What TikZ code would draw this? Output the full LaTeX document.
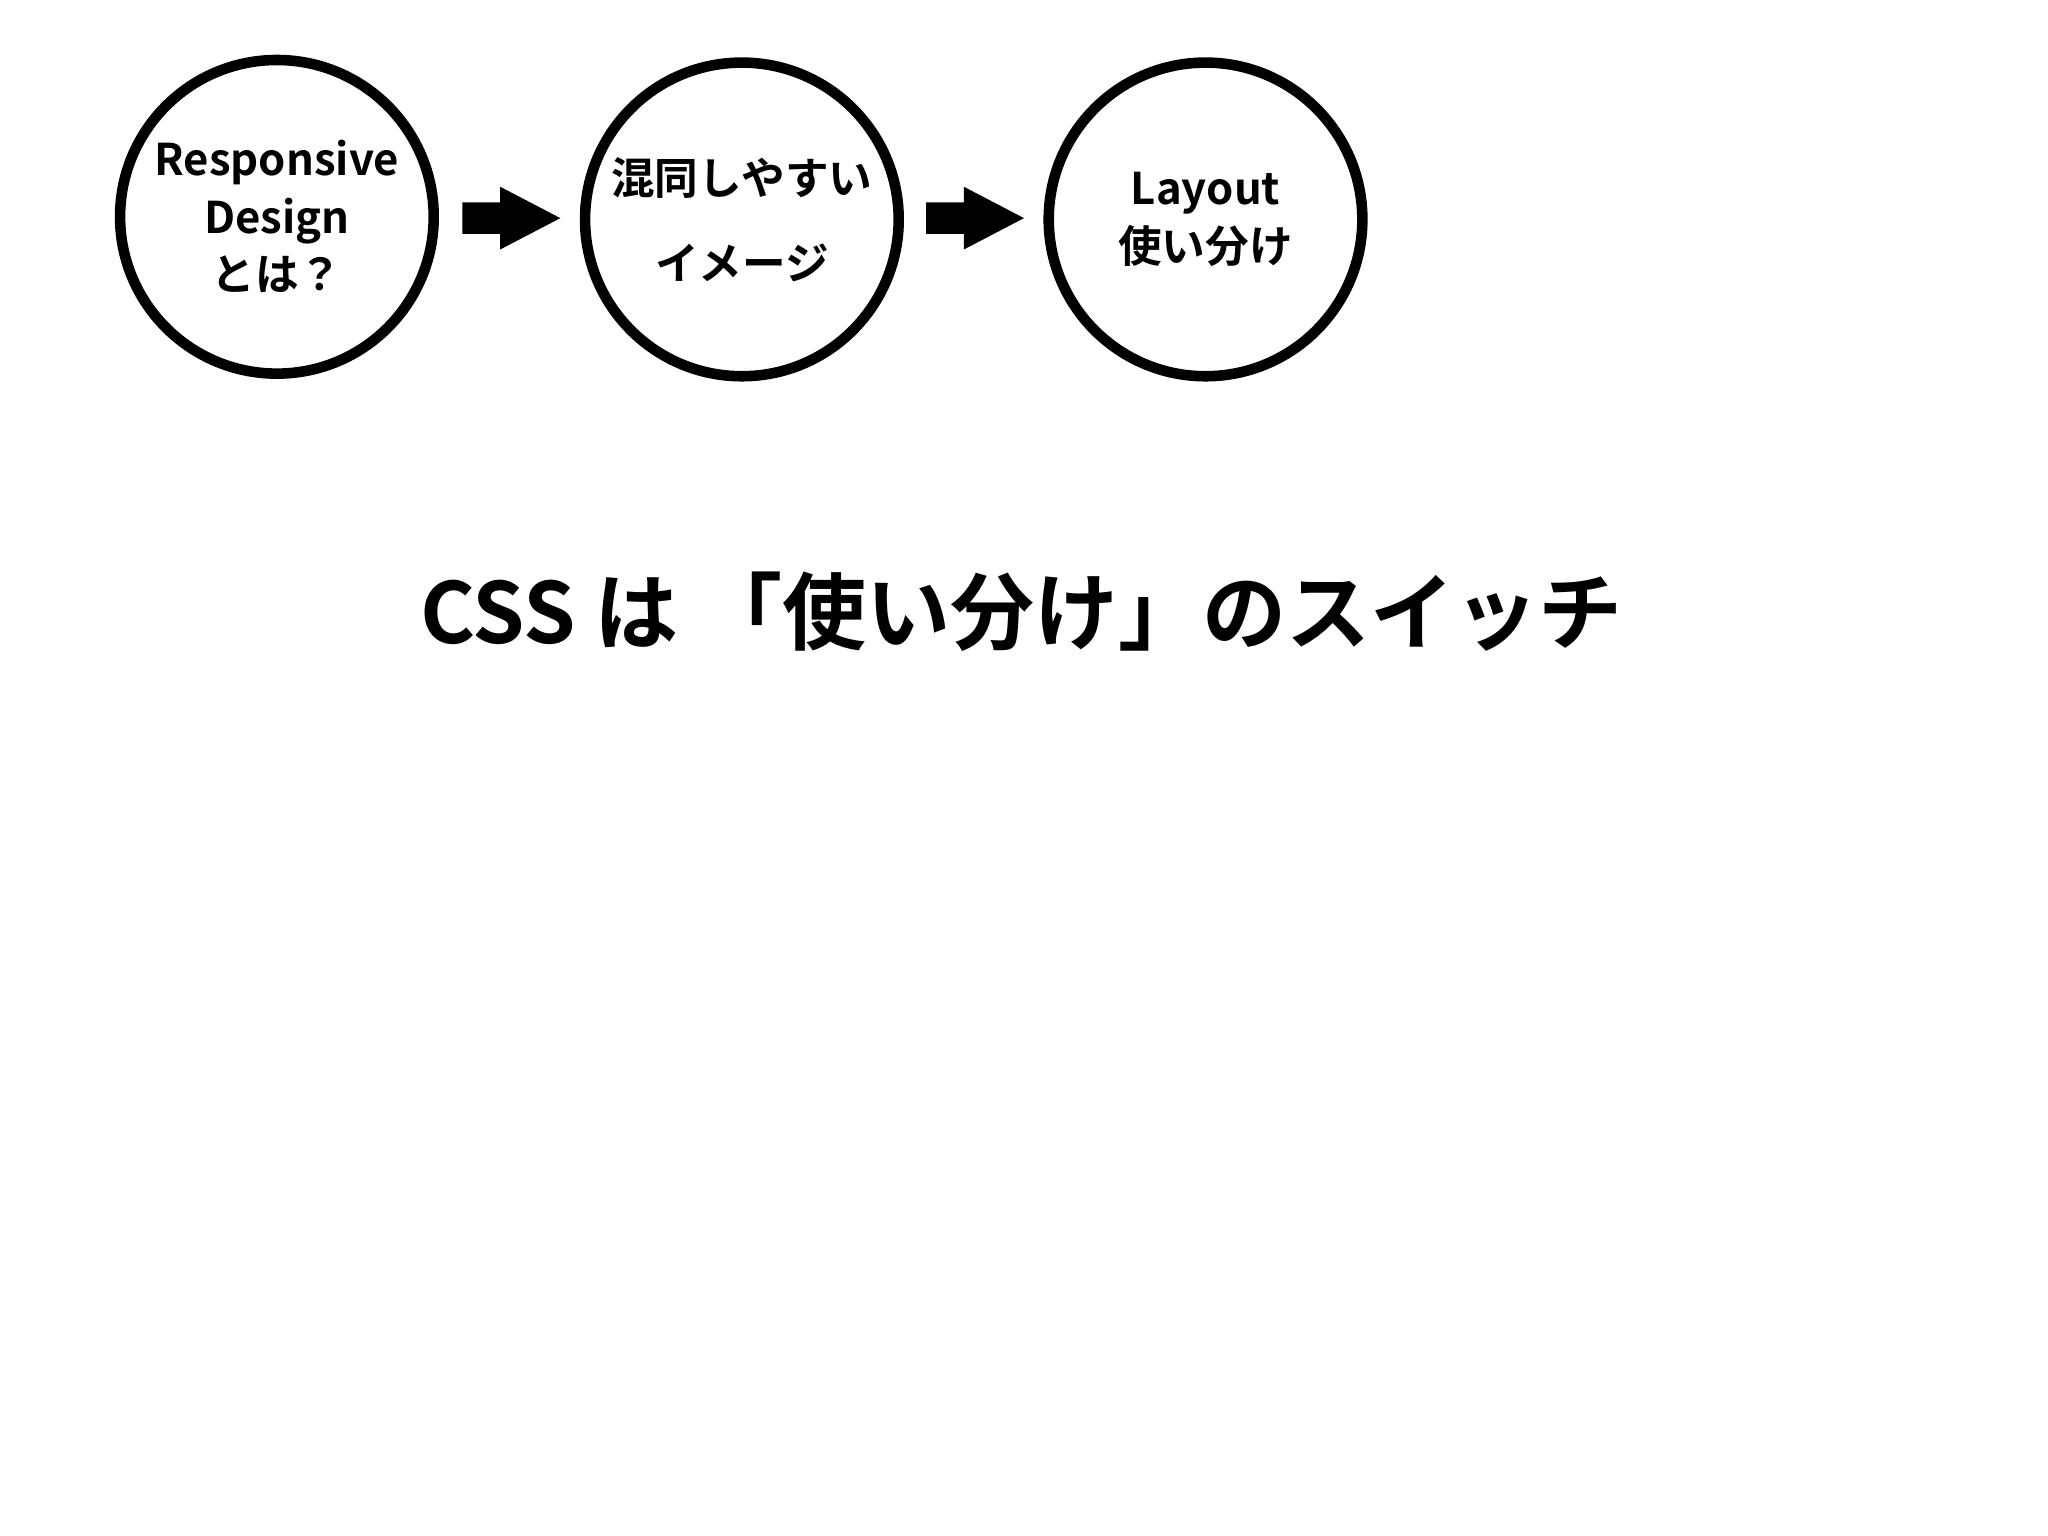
\documentclass[tikz,border=0pt]{standalone}
\usepackage{fontspec}
\setmainfont{Noto Sans CJK JP Bold}
\begin{document}
\begin{tikzpicture}[x=0.01cm,y=-0.01cm,
  circ/.style={circle,draw,line width=2.3pt,minimum size=2.4cm,inner sep=0pt,align=center,font=\fontsize{9.5}{12.5}\selectfont},
  blockarrow/.style={fill=black}]
\useasboundingbox (0,0) rectangle (1568,1176);
\node[circ] (a) at (212,166) {Responsive\\Design\\とは？};
\node[circ] (b) at (568,168) {混同しやすい\\[6pt]イメージ};
\node[circ] (c) at (923,168) {Layout\\使い分け};
\coordinate (a1) at (354,167);
\coordinate (b1) at (709,167);
\fill[blockarrow] (a1) ++(0,-12) -- ++(29,0) -- ++(0,-12) -- ++(46,24) -- ++(-46,24) -- ++(0,-12) -- ++(-29,0) -- cycle;
\fill[blockarrow] (b1) ++(0,-12) -- ++(29,0) -- ++(0,-12) -- ++(46,24) -- ++(-46,24) -- ++(0,-12) -- ++(-29,0) -- cycle;
\node[font=\fontsize{18.3}{20}\selectfont] (t) at (782,468) {CSS は 「使い分け」のスイッチ};
\end{tikzpicture}
\end{document}
